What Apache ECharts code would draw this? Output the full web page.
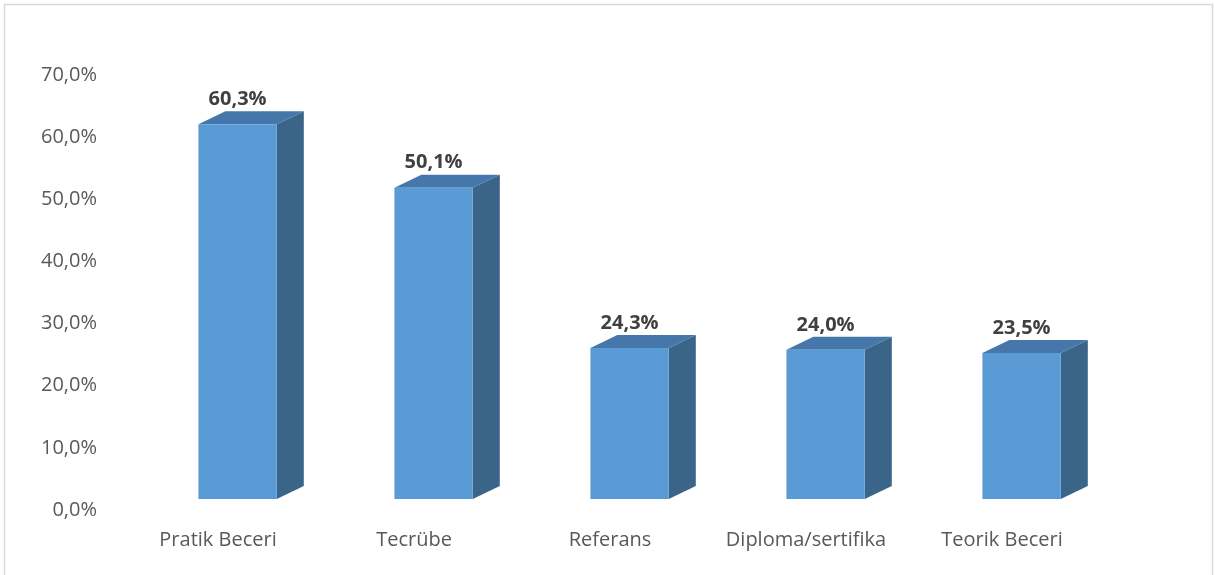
<!DOCTYPE html>
<html>
<head>
<meta charset="utf-8">
<script src="https://cdn.jsdelivr.net/npm/echarts@6/dist/echarts.min.js"></script>
<style>
html,body{margin:0;padding:0;background:#fff;}
#chart{width:1215px;height:575px;}
</style>
</head>
<body>
<div id="chart"></div>
<script>
var categories = ['Pratik Beceri', 'Tecrübe', 'Referans', 'Diploma/sertifika', 'Teorik Beceri'];
var values = [60.3, 50.1, 24.3, 24.0, 23.5];
var yTicks = [0, 10, 20, 30, 40, 50, 60, 70];

function fmt(v){ return v.toFixed(1).replace('.', ',') + '%'; }

var chart = echarts.init(document.getElementById('chart'), null, {renderer: 'canvas'});

var DX = 27, DY = 13, LIFT = 11;

chart.setOption({
  animation: false,
  backgroundColor: '#ffffff',
  graphic: [{
    type: 'rect',
    shape: {x: 4.5, y: 4.5, width: 1208, height: 580},
    style: {fill: 'none', stroke: '#D9D9D9', lineWidth: 1.5},
    silent: true
  }],
  grid: {left: 120, right: 115, top: 75, bottom: 65},
  xAxis: {
    type: 'category',
    data: categories,
    axisLine: {show: false},
    axisTick: {show: false},
    axisLabel: {
      color: '#595959',
      fontFamily: 'Open Sans',
      fontSize: 20,
      margin: 20,
      interval: 0
    }
  },
  yAxis: {
    type: 'value',
    min: 0,
    max: 70,
    interval: 10,
    splitLine: {show: false},
    axisLine: {show: false},
    axisTick: {show: false},
    axisLabel: {
      color: '#595959',
      fontFamily: 'Open Sans',
      fontSize: 20,
      margin: 23,
      formatter: function(v){ return fmt(v); }
    }
  },
  series: [{
    type: 'custom',
    data: values.map(function(v, i){ return [i, v]; }),
    renderItem: function(params, api){
      var idx = api.value(0);
      var val = api.value(1);
      var band = api.size([1, 0])[0];
      var c = api.coord([idx, 0]);
      var t = api.coord([idx, val]);
      var w = band * 0.4;
      var x0 = c[0] - w / 2 + band * 0.1;
      var x1 = x0 + w;
      var yb = c[1] - LIFT;
      var yt = t[1] - LIFT;
      return {
        type: 'group',
        children: [
          {
            type: 'polygon',
            shape: {points: [[x1, yb], [x1 + DX, yb - DY], [x1 + DX, yt - DY], [x1, yt]]},
            style: {fill: '#3A6488'}
          },
          {
            type: 'polygon',
            shape: {points: [[x0, yt], [x1, yt], [x1 + DX, yt - DY], [x0 + DX, yt - DY]]},
            style: {fill: '#4677AA'}
          },
          {
            type: 'rect',
            shape: {x: x0, y: yt, width: w, height: yb - yt},
            style: {fill: '#5B9BD5'}
          },
          {
            type: 'text',
            style: {
              text: fmt(val),
              x: (x0 + x1) / 2,
              y: yt - 25,
              align: 'center',
              verticalAlign: 'middle',
              fill: '#404040',
              font: 'bold 20px "Open Sans"'
            }
          }
        ]
      };
    }
  }]
});
</script>
</body>
</html>
